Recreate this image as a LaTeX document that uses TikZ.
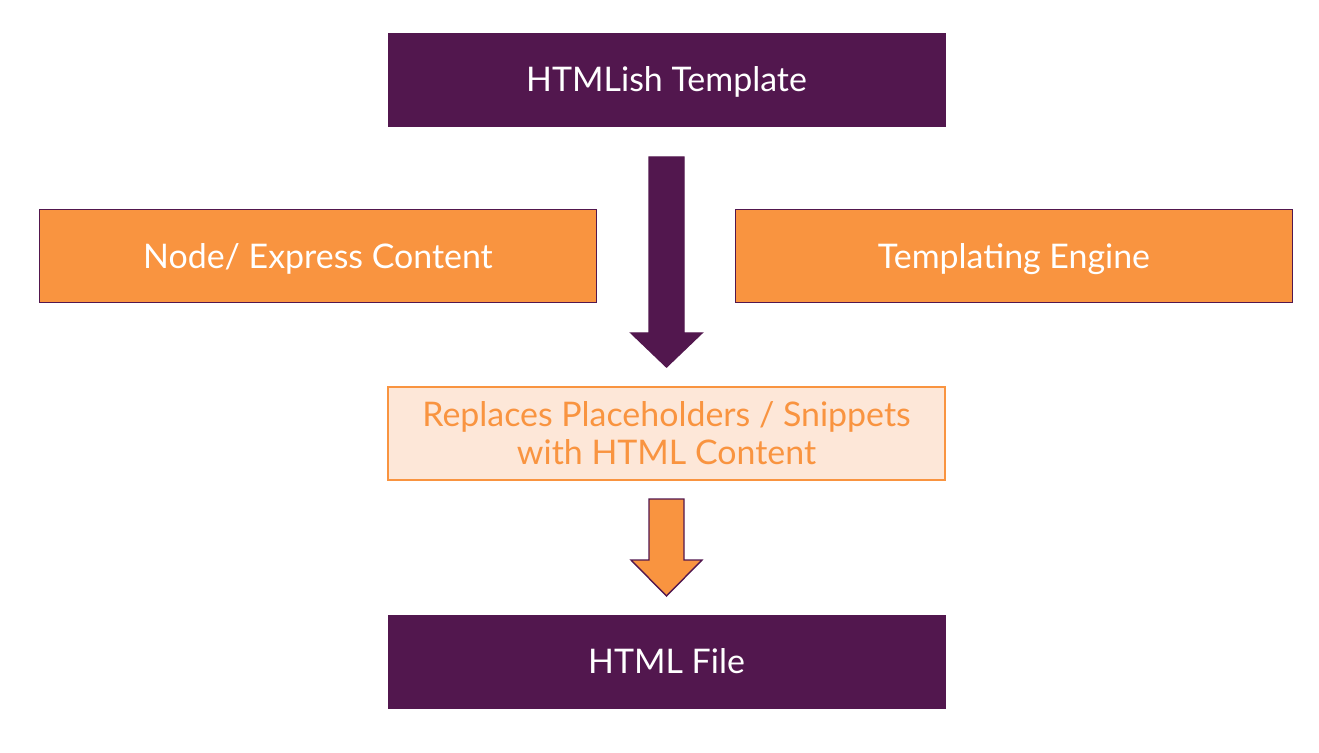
\documentclass[tikz,border=0pt]{standalone}
\usepackage{fontspec}
\setmainfont{Lato}
\usetikzlibrary{positioning}
\definecolor{plum}{HTML}{52174E}
\definecolor{tangerine}{HTML}{F99440}
\definecolor{peach}{HTML}{FDE7D8}
\tikzset{
  darkbox/.style={draw=plum, fill=plum, text=white, text depth=0pt, minimum width=11.14cm, minimum height=1.86cm, font=\fontsize{19.3}{21.5}\selectfont},
  orangebox/.style={draw=plum, line width=0.8pt, fill=tangerine, text=white, text depth=0pt, minimum width=11.14cm, minimum height=1.86cm, font=\fontsize{19.3}{21.5}\selectfont},
  lightbox/.style={draw=tangerine, line width=0.8pt, fill=peach, text=tangerine, align=center, minimum width=11.14cm, minimum height=1.86cm, font=\fontsize{19.3}{21.5}\selectfont},
}
\begin{document}
\begin{tikzpicture}[x=0.02cm, y=-0.02cm]
  \useasboundingbox (0,0) rectangle (1319,753);
  \node [darkbox] (tmpl) at (666.5,79.5) {HTMLish Template};
  \node [orangebox] (content) at (318,256) {Node/ Express Content};
  \node [orangebox] (engine) at (1014,256) {Templating Engine};
  \node [lightbox, below=5.2cm of tmpl] (repl) {Replaces Placeholders / Snippets\\with HTML Content};
  \node [darkbox, below=2.68cm of repl] (html) {HTML File};
  % block arrows
  \draw [plum, fill=plum, line width=0.8pt, line join=miter]
    (649,157) -- (684,157) -- (684,333) -- (702,333) -- (666.5,367)
    -- (631,333) -- (649,333) -- cycle;
  \draw [plum, fill=tangerine, line width=0.8pt, line join=miter]
    (649,499) -- (684,499) -- (684,560) -- (702,560) -- (666.5,596)
    -- (631,560) -- (649,560) -- cycle;
\end{tikzpicture}
\end{document}
